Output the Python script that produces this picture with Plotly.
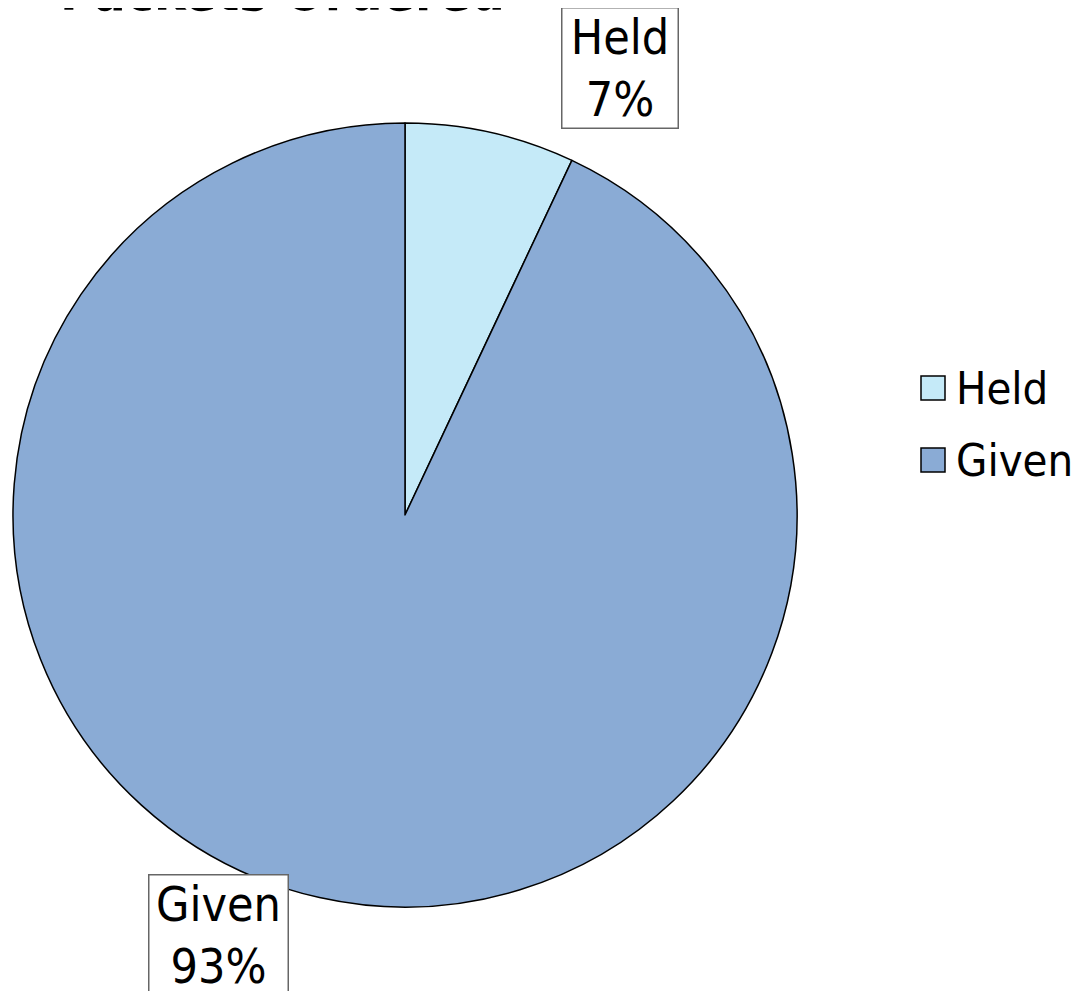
import plotly.graph_objects as go

labels = ["Held", "Given"]
values = [7, 93]
colors = ["#C5EAF8", "#8AABD5"]
title_text = "Packets Ordered"

W, H = 1088, 991
FONT = "DejaVu Sans Condensed, DejaVu Sans, sans-serif"

fig = go.Figure(go.Pie(
    labels=labels, values=values, sort=False, direction="clockwise", rotation=0,
    marker=dict(colors=colors, line=dict(color="black", width=1.5)),
    textinfo="none", hoverinfo="label+percent", showlegend=False,
    domain=dict(x=[5 / W, 789 / W], y=[1 - 899 / H, 1 - 115 / H]),
))

total = sum(values)
# label boxes: (center x, top y, box width) in pixels
label_pos = [(612, -1, 107), (210.5, 866, 130)]
for lab, val, (px, py, bw) in zip(labels, values, label_pos):
    fig.add_annotation(
        x=px / W, y=1 - py / H, xref="paper", yref="paper",
        xanchor="center", yanchor="top", showarrow=False,
        text=f"{lab}<br>{round(100 * val / total)}%",
        font=dict(family=FONT, size=48, color="black"),
        width=bw, height=111, valign="middle",
        bordercolor="#666666", borderwidth=1.5, borderpad=4, bgcolor="white",
    )

# title (partly cut off at the top, as in the reference)
fig.add_annotation(
    x=50 / W, y=1 - 16 / H, xref="paper", yref="paper", xanchor="left", yanchor="bottom",
    showarrow=False, text=f"<b>{title_text}</b>",
    font=dict(family=FONT, size=53, color="black"),
)

# legend
leg_y = [380, 452]
for lab, col, ly in zip(labels, colors, leg_y):
    fig.add_shape(type="rect", xref="paper", yref="paper",
                  x0=913 / W, x1=937 / W, y0=1 - (ly - 12) / H, y1=1 - (ly + 12) / H,
                  fillcolor=col, line=dict(color="black", width=1.5))
    fig.add_annotation(x=946 / W, y=1 - ly / H, xref="paper", yref="paper",
                       xanchor="left", yanchor="middle", showarrow=False, text=lab,
                       font=dict(family=FONT, size=45, color="black"))

fig.update_layout(
    width=W, height=H, margin=dict(l=0, r=0, t=0, b=0),
    paper_bgcolor="white", plot_bgcolor="white",
    showlegend=False,
)

fig.write_html("out.html")
